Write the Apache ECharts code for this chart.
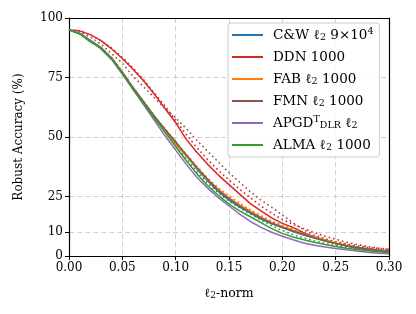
<!DOCTYPE html>
<html><head><meta charset="utf-8">
<script src="https://cdn.jsdelivr.net/npm/echarts@6/dist/echarts.min.js"></script>
<style>html,body{margin:0;padding:0;background:#fff}#c{width:416px;height:314px}</style>
</head><body><div id="c"></div>
<script>
const xs = [0.00,0.01,0.02,0.03,0.04,0.05,0.06,0.07,0.08,0.09,0.10,0.11,0.12,0.13,0.14,0.15,0.16,0.17,0.18,0.19,0.20,0.21,0.22,0.23,0.24,0.25,0.26,0.27,0.28,0.29,0.30];
const xTicks = [0.00,0.05,0.10,0.15,0.20,0.25,0.30];
const yTicks = [0,10,25,50,75,100];
const cw   = [95,93.5,90.5,87.5,83,77,70.5,64.5,58.5,53,47.5,42,36.5,31.5,27,23.5,20.5,18,15.5,13.5,12,10.3,8.8,7.5,6.3,5.2,4.2,3.4,2.7,2.2,1.8];
const ddn  = [95,94.6,93,90.5,87,83,78.5,73.5,68,62,56,49,43.5,38.5,34,30,26,22,19,16,13.7,12,9.8,8,6.5,5.2,4.3,3.6,3,2.5,2.1];
const fab  = [95,93.5,90.5,87.3,83,77,70.5,64.3,58,52.5,47,42,37,32,28,24.5,21.5,18.8,16.3,14,12.3,10.8,9.3,8,6.7,5.5,4.5,3.6,2.9,2.3,1.8];
const fmn  = [95,93.5,90.6,87.6,83.2,77.2,70.8,64.8,58.8,53.3,48,42.5,37.2,32.2,27.6,24,21,18.3,15.9,13.8,12.1,10.5,9,7.7,6.4,5.3,4.4,3.6,2.9,2.3,1.9];
const apgd = [95,93.5,90.5,87,82.5,76.5,70,63.5,57,50.5,44.5,38.5,33,28.5,24.5,21,17.6,14.5,12,10,8.3,6.8,5.5,4.5,3.8,3.2,2.6,2.1,1.6,1.2,0.9];
const alma = [95,93.3,90,87.2,82.8,76.5,70,64,58,52,46,40,34.5,29.5,25.5,21.8,19,16.5,14,11.5,9.5,8,6.8,5.8,4.8,4,3.3,2.7,2.2,1.8,1.4];
const ddnDot  = [95,94.6,93,90.5,87.3,83.5,79,74,68.5,63,57,51,45.5,40.5,36,32,28,24.5,21,18,15.3,13.3,11.5,9.8,8.3,7,5.8,4.8,4,3.3,2.8];
const fmnDot  = [95,94,92,89,85,81,75.5,71,66.5,62,58,53.5,48.5,44,39.5,35,31,27,23.5,20.5,17.2,14,11,8.8,7.2,6,5.1,4.3,3.7,3.2,2.7];
const cwDot   = [95,93.5,90.6,87.6,83.2,77.3,70.8,64.8,58.8,53.4,48,42.6,37.2,32.4,28,24.6,21.5,19,16.5,14.4,12.6,11,9.5,8.1,6.8,5.7,4.7,3.8,3.1,2.5,2];
const fabDot  = [95,93.5,90.6,87.5,83.2,77.2,70.8,64.6,58.4,53,47.6,42.6,37.6,32.8,28.8,25.3,22.2,19.5,17,14.7,12.9,11.3,9.8,8.4,7.1,5.9,4.8,3.9,3.1,2.5,2];
const almaDot = [95,93.4,90.2,87.4,83,76.8,70.4,64.4,58.4,52.5,46.6,40.8,35.4,30.5,26.6,23,20.2,17.6,15.1,12.7,10.7,9,7.6,6.4,5.3,4.4,3.6,2.9,2.4,1.9,1.5];

const names = ['C&W','DDN','FAB','FMN','APGD','ALMA'];
const labels = {
  'C&W': 'C&W ℓ{sub|2} 9×10{sup|4}',
  'DDN': 'DDN 1000',
  'FAB': 'FAB ℓ{sub|2} 1000',
  'FMN': 'FMN ℓ{sub|2} 1000',
  'APGD': 'APGD{sup|T}{sub|DLR} ℓ{sub|2}',
  'ALMA': 'ALMA ℓ{sub|2} 1000'
};
const colors = {'C&W':'#1f77b4','DDN':'#d62728','FAB':'#ff7f0e','FMN':'#8c564b','APGD':'#9467bd','ALMA':'#2ca02c'};
const solid = {'C&W':cw,'DDN':ddn,'FAB':fab,'FMN':fmn,'APGD':apgd,'ALMA':alma};
const dotted = [['C&W',cwDot],['FAB',fabDot],['ALMA',almaDot],['DDN',ddnDot],['FMN',fmnDot]];

const pair = v => xs.map((x,i)=>[x,v[i]]);
const series = [];
dotted.forEach(([n,v])=>series.push({name:n+'_dot',type:'line',data:pair(v),symbol:'none',
  lineStyle:{color:colors[n],width:1.6,type:[1.6,3]},itemStyle:{color:colors[n]},z:2}));
names.forEach(n=>series.push({name:n,type:'line',data:pair(solid[n]),symbol:'none',
  lineStyle:{color:colors[n],width:1.5},itemStyle:{color:colors[n]},z:3}));

const serif = '"DejaVu Serif","Liberation Serif",serif';
const chart = echarts.init(document.getElementById('c'),null,{renderer:'canvas'});
const border = {show:true,onZero:false,lineStyle:{color:'#000',width:1.2}};
chart.setOption({
  animation:false,
  backgroundColor:'#fff',
  grid:{left:69,right:27,top:18,bottom:58},
  xAxis:[{type:'value',min:0,max:0.3,interval:0.05,
    name:'ℓ{sub|2}-norm',nameLocation:'middle',nameGap:31,
    nameTextStyle:{fontFamily:serif,fontSize:12.5,color:'#000',rich:{sub:{fontSize:9,verticalAlign:'bottom',fontFamily:serif}}},
    axisLine:border,
    axisTick:{show:true,inside:false,length:4,lineStyle:{color:'#000',width:1}},
    axisLabel:{fontFamily:serif,fontSize:12,color:'#000',margin:6,formatter:v=>v.toFixed(2),showMinLabel:true,showMaxLabel:true},
    splitLine:{show:true,lineStyle:{color:'#d0d0d0',width:1,type:[5,3]}}},
   {type:'value',position:'top',min:0,max:0.3,axisLine:border,axisTick:{show:false},axisLabel:{show:false},splitLine:{show:false}}],
  yAxis:[{type:'value',min:0,max:100,
    name:'Robust Accuracy (%)',nameLocation:'middle',nameGap:44,
    nameTextStyle:{fontFamily:serif,fontSize:12,color:'#000'},
    axisLine:border,
    axisTick:{show:true,inside:false,length:4,lineStyle:{color:'#000',width:1},customValues:yTicks},
    axisLabel:{fontFamily:serif,fontSize:12,color:'#000',margin:6,customValues:yTicks},
    splitLine:{show:true,lineStyle:{color:'#d0d0d0',width:1,type:[5,3]}}},
   {type:'value',position:'right',min:0,max:100,axisLine:border,axisTick:{show:false},axisLabel:{show:false},splitLine:{show:false}}],
  legend:{data:names,orient:'vertical',left:228,top:23,
    backgroundColor:'rgba(255,255,255,0.85)',borderColor:'#cccccc',borderWidth:1,borderRadius:3,
    padding:[4,6,4,4],itemGap:6,itemWidth:31,itemHeight:2,
    icon:'rect',
    formatter:n=>labels[n],
    textStyle:{fontFamily:serif,fontSize:13.5,color:'#000',lineHeight:16,padding:[0,0,0,5],
      rich:{sub:{fontSize:9.5,verticalAlign:'bottom',lineHeight:16,fontFamily:serif},
            sup:{fontSize:9.5,verticalAlign:'top',lineHeight:16,fontFamily:serif}}}},
  series:series
});
</script></body></html>
